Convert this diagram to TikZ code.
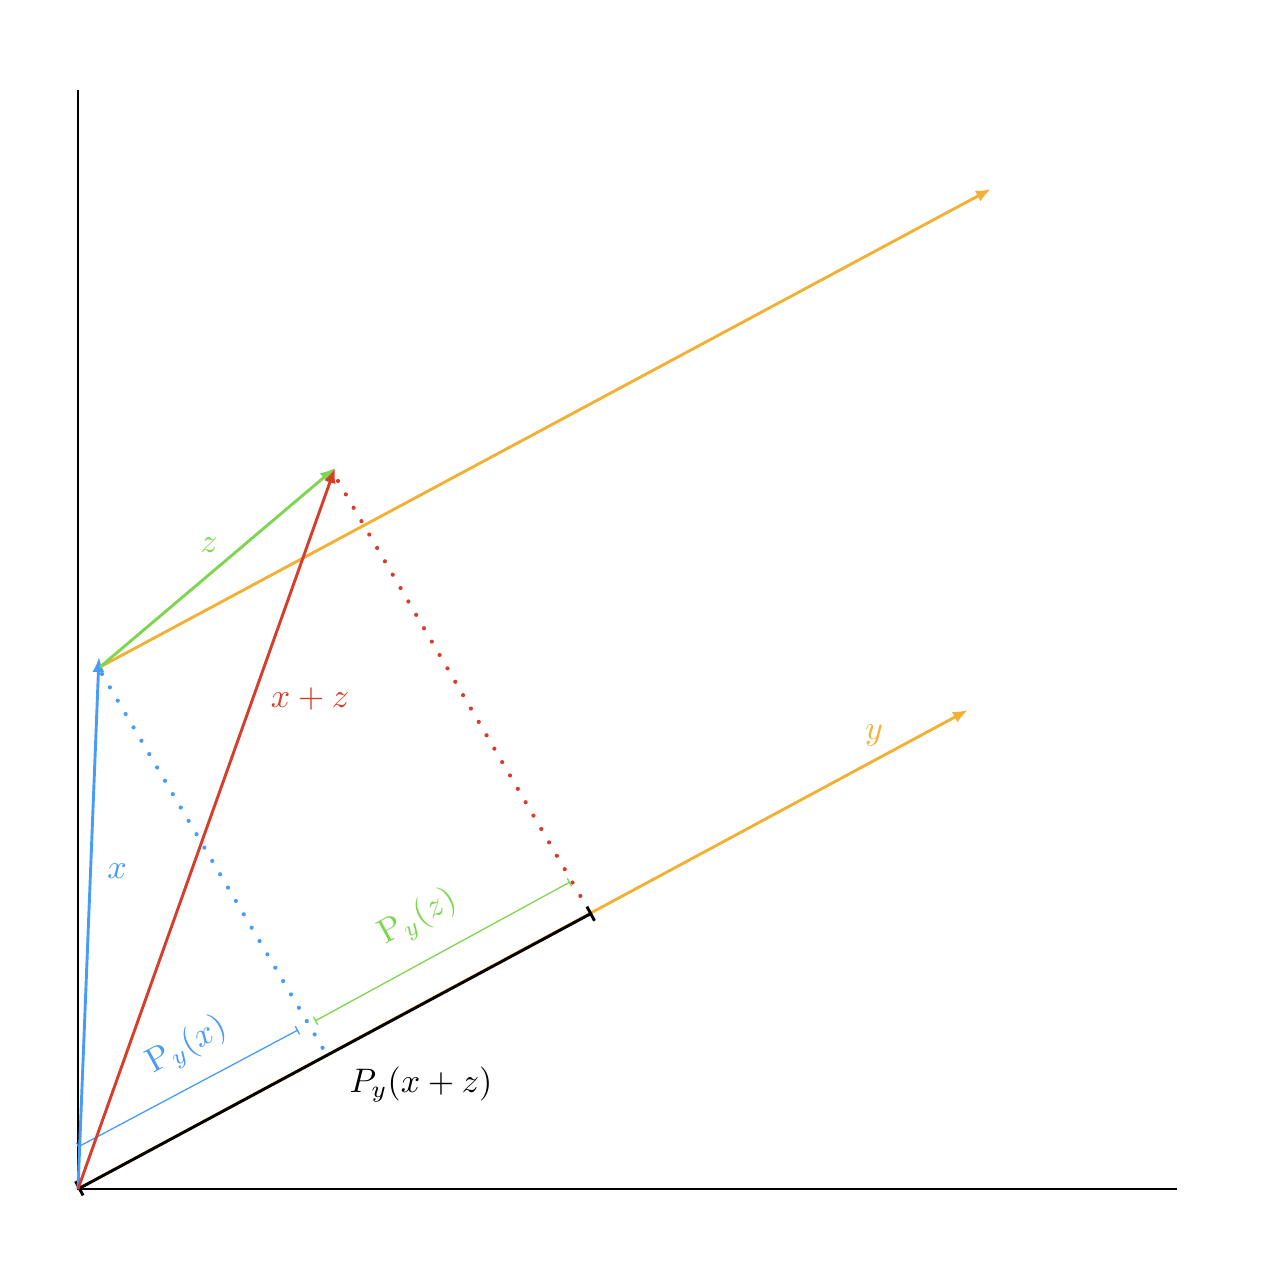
\documentclass[tikz,border=0pt]{standalone}
\usetikzlibrary{arrows.meta}
\definecolor{cblue}{RGB}{70,156,246}
\definecolor{cgreen}{RGB}{126,214,80}
\definecolor{cred}{RGB}{216,60,42}
\definecolor{corange}{RGB}{242,176,53}
\newcommand{\bigtxt}[1]{\scalebox{3.4}{#1}}
\begin{document}
\begin{tikzpicture}[x=1pt,y=-1pt,
  vec/.style={line width=2.9pt,-{Latex[length=15pt,width=12pt]}},
  axis/.style={line width=2.8pt,black},
  dots/.style={line width=4.2pt,line cap=round,dash pattern=on 0pt off 15.5pt},
  dim/.style={line width=1.3pt,{Bar[width=9pt]}-{Bar[width=9pt]}},
  lbl/.style={inner sep=0pt}]
\useasboundingbox (0,0) rectangle (1273,1273);
% coordinates
\coordinate (O) at (78,1189);
\coordinate (top) at (78,90);
\coordinate (right) at (1177,1189);
\coordinate (xt) at (99,657);
\coordinate (xs) at (100,667);
\coordinate (xzt) at (335,468);
\coordinate (yu) at (991,189);
\coordinate (yl) at (968,710);
\coordinate (pxz) at (592,913);
\coordinate (dxs) at (102,674);
\coordinate (dxa) at (325,1052);
\coordinate (dxb) at (338,481);
\coordinate (dxc) at (588,909);
\coordinate (bx1) at (78,1147);
\coordinate (bx2) at (298,1030);
\coordinate (gz1) at (315,1021);
\coordinate (gz2) at (570,882);
% axes
\draw[axis] (top) -- (O) -- (right);
% orange y vectors
\draw[vec,corange] (O) -- (yl);
\draw[vec,corange] (xs) -- (yu);
% projection of x+z in black
\draw[line width=2.9pt,black,{Bar[width=16pt]}-{Bar[width=16pt]}] (O) -- (pxz);
% dotted perpendiculars
\draw[dots,cblue] (dxs) -- (dxa);
\draw[dots,cred] (dxb) -- (dxc);
% dimension lines
\draw[dim,cblue] (bx1) -- (bx2);
\draw[dim,cgreen] (gz1) -- (gz2);
% vectors
\draw[vec,cblue] (O) -- (xt);
\draw[vec,cgreen] (xs) -- (xzt);
\draw[vec,cred] (O) -- (xzt);
% labels
\node[lbl,text=cblue] (lx) at (117,871) {\bigtxt{$x$}};
\node[lbl,text=cgreen] (lz) at (209,545) {\bigtxt{$z$}};
\node[lbl,text=cred] (lxz) at (310,699) {\bigtxt{$x+z$}};
\node[lbl,text=corange] (ly) at (874,735) {\bigtxt{$y$}};
\node[lbl,text=cblue,rotate=28.3] (lpx) at (187,1046) {\bigtxt{$\mathrm{P}_y(x)$}};
\node[lbl,text=cgreen,rotate=28.3] (lpz) at (418,918) {\bigtxt{$\mathrm{P}_y(z)$}};
\node[lbl,text=black] (lpxz) at (421,1085) {\bigtxt{$P_y(x+z)$}};
\end{tikzpicture}
\end{document}
